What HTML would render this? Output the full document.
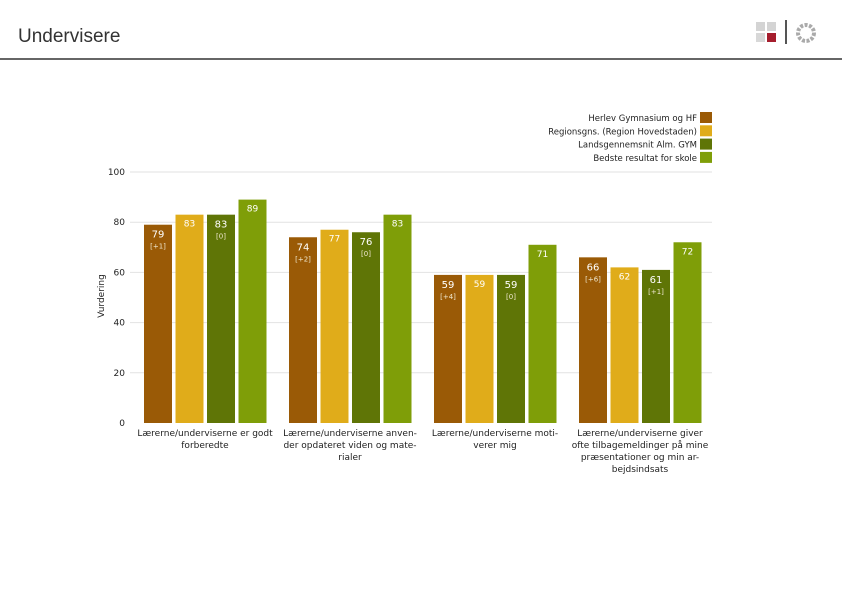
<!DOCTYPE html>
<html><head><meta charset="utf-8"><style>
body{margin:0;width:842px;height:595px;background:#fff;font-family:"DejaVu Sans","Liberation Sans",sans-serif;overflow:hidden;position:relative}
#title{position:absolute;left:18px;top:26px;font-family:"Liberation Sans",sans-serif;font-size:19px;color:#333}
#rule{position:absolute;left:0;top:58px;width:842px;height:2px;background:#666}
svg{position:absolute;left:0;top:0}
</style></head><body>
<div id="title">Undervisere</div>
<div id="rule"></div>
<svg width="842" height="595" id="chart">
<g>
<rect x="756" y="22" width="9" height="9" fill="#d4d4d4"/><rect x="767" y="22" width="9" height="9" fill="#d4d4d4"/>
<rect x="756" y="33" width="9" height="9" fill="#d8d8d8"/><rect x="767" y="33" width="9" height="9" fill="#a51d2d"/>
<rect x="785" y="20" width="2" height="24" fill="#555"/>
<circle cx="806" cy="33" r="8" fill="none" stroke="#aaa" stroke-width="4" stroke-dasharray="3 1.5"/>
</g>
</svg>
<script>
const categories=[["Lærerne/underviserne er godt","forberedte"],["Lærerne/underviserne anven-","der opdateret viden og mate-","rialer"],["Lærerne/underviserne moti-","verer mig"],["Lærerne/underviserne giver","ofte tilbagemeldinger på mine","præsentationer og min ar-","bejdsindsats"]];
const seriesNames=["Herlev Gymnasium og HF","Regionsgns. (Region Hovedstaden)","Landsgennemsnit Alm. GYM","Bedste resultat for skole"];
const herlev=[79,74,59,66];
const region=[83,77,59,62];
const lands=[83,76,59,61];
const bedste=[89,83,71,72];
const herlevDiff=["[+1]","[+2]","[+4]","[+6]"];
const landsDiff=["[0]","[0]","[0]","[+1]"];
const yTicks=[0,20,40,60,80,100];
const colors=["#9a5a06","#e0ac1a","#5f7506","#7f9e08"];
const svg=document.getElementById('chart');const NS="http://www.w3.org/2000/svg";
function y(v){return 423-v*2.51;}
function gx(i){return 144+i*145;}
function mk(t,a,p){const e=document.createElementNS(NS,t);for(const k in a)e.setAttribute(k,a[k]);(p||svg).appendChild(e);return e;}
function txt(x,yy,s,a){const e=mk('text',Object.assign({x:x,y:yy,'font-size':9,fill:'#222','text-anchor':'middle'},a||{}));e.textContent=s;return e;}
yTicks.forEach(t=>{
 if(t>0){const l=mk('line',{x1:130,x2:712,y1:y(t),y2:y(t),stroke:'#e2e2e2','stroke-width':1});
 
 }
 const e=txt(125,y(t)+3,String(t),{'text-anchor':'end'});
 
 
});
const yt=txt(104,296,"Vurdering",{transform:"rotate(-90 104 296)"});


const series=[herlev,region,lands,bedste];
categories.forEach((c,i)=>{
 series.forEach((s,j)=>{
  const x=gx(i)+j*31.5,v=s[i];
  const r=mk('rect',{x:x,y:y(v),width:28,height:423-y(v),fill:colors[j]});
  
  
  const lbl=txt(x+14,y(v)+(j%2===0?13:12),String(v),{fill:'#fff','font-size':j%2===0?10:9});
  
  
  if(j===0||j===2){const d=txt(x+14,y(v)+24,(j===0?herlevDiff:landsDiff)[i],{fill:'#f0e8d0','font-size':7});
   
   }
 });
 c.forEach((ln,k)=>{const e=txt(gx(i)+61,436+k*12,ln);
  
  });
});
seriesNames.forEach((n,j)=>{
 const r=mk('rect',{x:700,y:112+j*13.3,width:12,height:11,fill:colors[j]});
 
 
 const t=txt(697,121+j*13.3,n,{'text-anchor':'end','font-size':8.5});
 
 
});
</script>
</body></html>
